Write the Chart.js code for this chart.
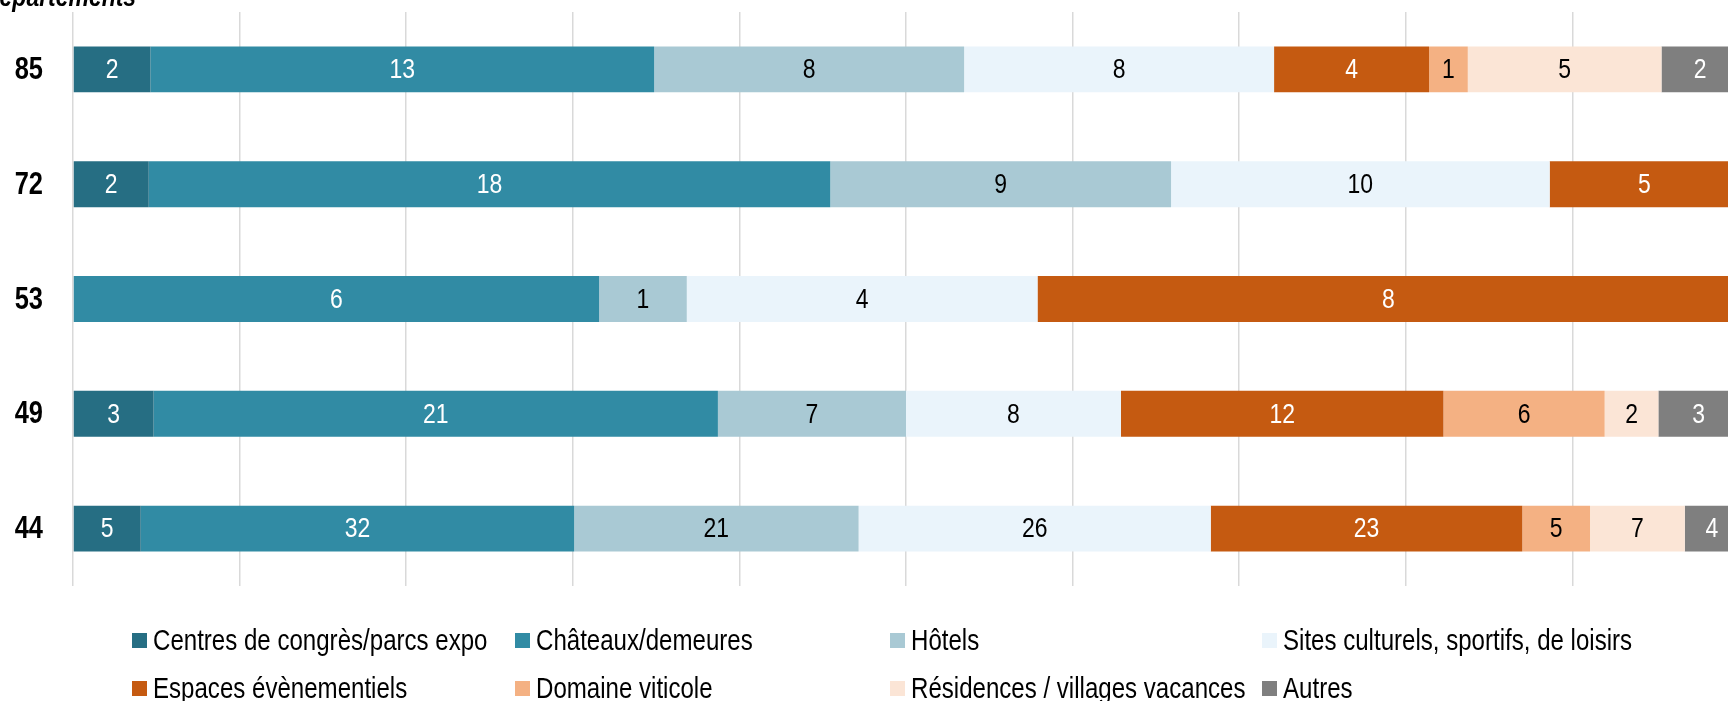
<!DOCTYPE html>
<html><head><meta charset="utf-8">
<script src="https://cdn.jsdelivr.net/npm/chart.js@4"></script>
<style>
html,body{margin:0;padding:0;overflow:hidden;background:#fff;width:1728px;height:701px}
#wrap{position:absolute;left:0;top:0;width:1740px;height:701px}
.li{position:absolute;font-family:'Liberation Sans','Arial',sans-serif;font-size:29px;color:#000;white-space:nowrap;display:flex;align-items:center;line-height:1}
.sw{width:15px;height:15px;margin-right:6px;flex:none}
.tx{display:inline-block;transform:scaleX(0.83);transform-origin:left center}
</style>
</head><body>
<div id="wrap"><canvas id="c"></canvas></div>
<div id="legend"></div>
<script>
const departements = ['85','72','53','49','44'];
const seriesNames = ['Centres de congrès/parcs expo','Châteaux/demeures','Hôtels','Sites culturels, sportifs, de loisirs','Espaces évènementiels','Domaine viticole','Résidences / villages vacances','Autres'];
const centres    = [2, 2, 0, 3, 5];
const chateaux   = [13, 18, 6, 21, 32];
const hotels     = [8, 9, 1, 7, 21];
const sites      = [8, 10, 4, 8, 26];
const espaces    = [4, 5, 8, 12, 23];
const domaine    = [1, 0, 0, 6, 5];
const residences = [5, 0, 0, 2, 7];
const autres     = [2, 0, 0, 3, 4];
const axisTitle = 'Départements';
const seriesColors = ['#266E83','#318BA4','#A9C9D4','#EAF4FB','#C55A11','#F4B183','#FBE5D6','#7F7F7F'];
const labelColors  = ['#fff','#fff','#000','#000','#fff','#000','#000','#fff'];
const legendOrder = [[0,1,2,3],[4,5,6,7]];

const FONT = "'Liberation Sans',Arial,sans-serif";
const NARROW = 0.82;
const counts = [centres, chateaux, hotels, sites, espaces, domaine, residences, autres];
const totals = departements.map((_, i) => counts.reduce((s, a) => s + a[i], 0));

const datasets = counts.map((arr, k) => ({
  label: seriesNames[k],
  data: arr.map((v, i) => v / totals[i] * 100),
  counts: arr,
  backgroundColor: seriesColors[k],
  borderWidth: 0,
  categoryPercentage: 0.8,
  barPercentage: 0.5
}));

function narrowText(ctx, text, x, y, align) {
  ctx.save();
  ctx.translate(x, y);
  ctx.scale(NARROW, 1);
  ctx.textAlign = align;
  ctx.fillText(text, 0, 0);
  ctx.restore();
}

const labelPlugin = {
  id: 'segLabels',
  afterDatasetsDraw(chart) {
    const ctx = chart.ctx;
    ctx.save();
    ctx.font = '28px ' + FONT;
    ctx.textBaseline = 'middle';
    chart.data.datasets.forEach((ds, k) => {
      const meta = chart.getDatasetMeta(k);
      meta.data.forEach((bar, i) => {
        const c = ds.counts[i];
        if (!c) return;
        ctx.fillStyle = labelColors[k];
        narrowText(ctx, String(c), (bar.base + bar.x) / 2, bar.y + 1, 'center');
      });
    });
    ctx.restore();
  },
  afterDraw(chart) {
    const ctx = chart.ctx;
    const y = chart.scales.y;
    ctx.save();
    ctx.fillStyle = '#000';
    ctx.font = 'bold 31px ' + FONT;
    ctx.textBaseline = 'middle';
    departements.forEach((d, i) => {
      narrowText(ctx, d, 43, y.getPixelForValue(i) + 1, 'right');
    });
    ctx.font = 'italic bold 28px ' + FONT;
    ctx.textBaseline = 'alphabetic';
    narrowText(ctx, axisTitle, -17, 6, 'left');
    ctx.restore();
  }
};

new Chart(document.getElementById('c'), {
  type: 'bar',
  data: { labels: departements, datasets },
  options: {
    indexAxis: 'y',
    responsive: true,
    maintainAspectRatio: false,
    animation: false,
    layout: { padding: { top: 12, bottom: 115, right: 1, left: 73 } },
    plugins: { legend: { display: false }, tooltip: { enabled: false } },
    scales: {
      x: {
        stacked: true, min: 0, max: 100,
        ticks: { display: false, stepSize: 10 },
        grid: { color: '#D9D9D9', lineWidth: 1.5, drawTicks: false },
        border: { display: false }
      },
      y: {
        stacked: true,
        grid: { display: false, drawTicks: false },
        border: { display: false },
        ticks: { display: false }
      }
    }
  },
  plugins: [labelPlugin]
});

// legend
const legendX = [132, 515, 890, 1262];
const legendY = [640, 688];
const lg = document.getElementById('legend');
legendOrder.forEach((row, r) => row.forEach((k, c) => {
  const d = document.createElement('div');
  d.className = 'li';
  d.style.left = legendX[c] + 'px';
  d.style.top = (legendY[r] - 15) + 'px';
  d.style.height = '30px';
  d.innerHTML = '<span class="sw" style="background:' + seriesColors[k] + '"></span><span class="tx">' + seriesNames[k] + '</span>';
  lg.appendChild(d);
}));
</script>
</body></html>
